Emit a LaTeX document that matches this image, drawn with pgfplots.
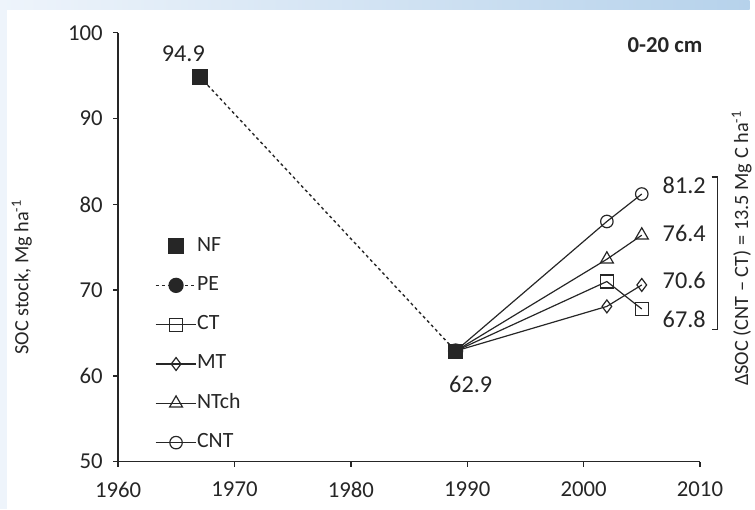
\documentclass[border=0pt]{standalone}
\usepackage{pgfplots}
\pgfplotsset{compat=1.18}
\usepackage{fontspec}
\setmainfont{Carlito}
\definecolor{txt}{RGB}{38,38,38}
\definecolor{bandL}{RGB}{238,244,251}
\definecolor{bandR}{RGB}{182,210,235}
\begin{document}
\begin{tikzpicture}[x=1bp,y=1bp]
\fill[white] (0,0) rectangle (755,513);
\shade[left color=bandL, right color=bandR] (0,503) rectangle (755,513);
\fill[bandL] (0,0) rectangle (7,503);
\begin{axis}[
  at={(119bp,48bp)}, anchor=south west,
  width=586bp, height=432bp, scale only axis,
  xmin=1960, xmax=2010, ymin=50, ymax=100,
  axis x line*=bottom, axis y line*=left,
  axis line style={-, line width=1.4bp, txt},
  xtick={1960,1970,...,2010}, ytick={50,60,...,100},
  tick align=outside, major tick length=5bp,
  tick style={line width=1.4bp, txt},
  /pgf/number format/assume math mode=true,
  /pgf/number format/1000 sep={},
  scaled ticks=false,
  tick label style={font=\fontsize{23}{27}\selectfont, text=txt},
  xticklabel style={yshift=-12bp},
  yticklabel style={xshift=-7bp},
  clip=false,
  legend style={at={(axis description cs:0.063,0.524)}, anchor=north west, draw=none, fill=none,
    inner sep=0pt, font=\fontsize{22}{26}\selectfont, text=txt, row sep=21.6bp,
    cells={anchor=west}, nodes={inner sep=0pt, text height=14bp, text depth=4bp},
    /tikz/every even column/.append style={column sep=8bp}},
  legend image code/.code={\draw[mark repeat=2,mark phase=2,#1] plot coordinates {(0bp,0bp) (20.5bp,0bp) (41bp,0bp)};},
]
\addplot[white, mark=square*, mark size=7.5bp, mark options={draw=txt, fill=txt}] coordinates {(1967,94.9)};
\addlegendentry{NF}
\addplot[txt, line width=1.4bp, dash pattern=on 3bp off 3bp, mark=*, mark size=7bp, mark phase=2, mark options={solid}] coordinates {(1967,94.9) (1989,62.9)};
\addlegendentry{PE}
\addplot[txt, line width=1.2bp, mark=square, mark size=6.5bp, mark phase=2, mark options={solid, fill=white}] coordinates {(1989,62.9) (2002,71.0) (2005,67.8)};
\addlegendentry{CT}
\addplot[txt, line width=1.2bp, mark=diamond, mark size=6.5bp, mark phase=2, mark options={solid, fill=white}] coordinates {(1989,62.9) (2002,68.1) (2005,70.6)};
\addlegendentry{MT}
\addplot[txt, line width=1.2bp, mark=triangle, mark size=7.5bp, mark phase=2, mark options={solid, fill=white}] coordinates {(1989,62.9) (2002,73.6) (2005,76.4)};
\addlegendentry{NTch}
\addplot[txt, line width=1.2bp, mark=o, mark size=6.3bp, mark phase=2, mark options={solid, fill=white}] coordinates {(1989,62.9) (2002,78.0) (2005,81.2)};
\addlegendentry{CNT}
\addplot[forget plot, only marks, mark=square*, mark size=7bp, txt] coordinates {(1989,62.9)};
% labels
\node[font=\fontsize{20.5}{24}\selectfont, text=txt, rotate=90] at (axis description cs:-0.1655,0.43) {SOC stock, Mg ha\textsuperscript{-1}};
\node[font=\fontsize{24.5}{28}\selectfont, text=txt] at (axis cs:1965.6,97.6) {94.9};
\node[font=\fontsize{24.5}{28}\selectfont, text=txt] at (axis cs:1990.3,59.0) {62.9};
\node[font=\fontsize{24.5}{28}\selectfont, text=txt, anchor=west] at (axis cs:2006.5,82.2) {81.2};
\node[font=\fontsize{24.5}{28}\selectfont, text=txt, anchor=west] at (axis cs:2006.5,76.6) {76.4};
\node[font=\fontsize{24.5}{28}\selectfont, text=txt, anchor=west] at (axis cs:2006.5,71.1) {70.6};
\node[font=\fontsize{24.5}{28}\selectfont, text=txt, anchor=west] at (axis cs:2006.5,66.55) {67.8};
\node[font=\bfseries\fontsize{23}{27}\selectfont, text=txt] at (axis cs:2007.0,98.6) {0-20 cm};
\draw[txt, line width=1.3bp] (axis cs:2011.0,83.2) -- (axis cs:2011.5,83.2) -- (axis cs:2011.5,65.4) -- (axis cs:2011.0,65.4);
\node[font=\fontsize{20.5}{24}\selectfont, text=txt, rotate=90] at (axis description cs:1.0717,0.497) {ΔSOC (CNT – CT) = 13.5 Mg C ha\textsuperscript{-1}};
\end{axis}
\end{tikzpicture}
\end{document}
